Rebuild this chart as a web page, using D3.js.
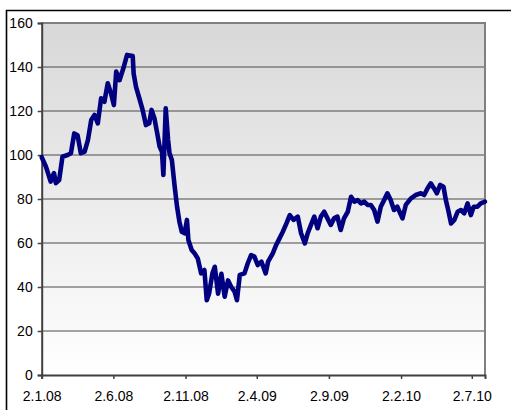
<!DOCTYPE html>
<html>
<head>
<meta charset="utf-8">
<script src="https://cdn.jsdelivr.net/npm/d3@7"></script>
<style>
  body { margin: 0; background: #fff; }
  text { font-family: "Liberation Sans", Arial, sans-serif; font-size: 14px; fill: #000; }
</style>
</head>
<body>
<div id="chart"></div>
<script>
// values
var dates = [
  "2008-01-02","2008-01-11","2008-01-21","2008-01-28","2008-02-01","2008-02-08","2008-02-15","2008-02-26",
  "2008-03-04","2008-03-11","2008-03-18","2008-03-25","2008-04-02","2008-04-09","2008-04-16","2008-04-23",
  "2008-04-30","2008-05-07","2008-05-14","2008-05-21","2008-05-28","2008-06-03","2008-06-08","2008-06-15",
  "2008-06-24","2008-07-01","2008-07-13","2008-07-15","2008-07-20","2008-07-27","2008-08-03","2008-08-10",
  "2008-08-17","2008-08-22","2008-08-28","2008-09-03","2008-09-08","2008-09-13","2008-09-16","2008-09-21",
  "2008-09-26","2008-09-29","2008-10-04","2008-10-10","2008-10-15","2008-10-20","2008-10-25","2008-10-31",
  "2008-11-05","2008-11-08","2008-11-15","2008-11-21","2008-11-28","2008-12-05","2008-12-12","2008-12-17",
  "2008-12-22","2008-12-29","2009-01-03","2009-01-10","2009-01-17","2009-01-24","2009-01-31","2009-02-07",
  "2009-02-14","2009-02-19","2009-02-25","2009-03-07","2009-03-14","2009-03-21","2009-03-28","2009-04-04",
  "2009-04-12","2009-04-21","2009-04-26","2009-05-06","2009-05-13","2009-05-20","2009-05-27","2009-06-04",
  "2009-06-11","2009-06-19","2009-06-28","2009-07-05","2009-07-13","2009-07-19","2009-07-26","2009-08-02",
  "2009-08-09","2009-08-16","2009-08-23","2009-08-30","2009-09-06","2009-09-13","2009-09-20","2009-09-27",
  "2009-10-04","2009-10-12","2009-10-19","2009-10-26","2009-11-02","2009-11-09","2009-11-16","2009-11-23",
  "2009-11-30","2009-12-07","2009-12-14","2009-12-21","2009-12-28","2010-01-04","2010-01-11","2010-01-18",
  "2010-01-25","2010-02-05","2010-02-12","2010-02-23","2010-03-05","2010-03-16","2010-03-23","2010-03-30",
  "2010-04-06","2010-04-13","2010-04-19","2010-04-26","2010-05-03","2010-05-08","2010-05-13","2010-05-19",
  "2010-05-26","2010-06-02","2010-06-09","2010-06-16","2010-06-23","2010-06-30","2010-07-06","2010-07-14",
  "2010-07-21","2010-07-30"
];
var values = [
  99, 94.7, 87.9, 91.8, 87.2, 88.6, 99.2, 100,
  100.8, 109.8, 109, 100.8, 101.5, 106.8, 115.9, 118.2,
  114.4, 125.8, 124.2, 132.6, 128, 122.7, 137.9, 134,
  140, 145.5, 145, 137, 131, 125.8, 120.5, 113.6,
  114.4, 120.5, 116.7, 109.8, 103.8, 101.5, 90.9, 121.2,
  106.8, 100.8, 97.7, 85.6, 76.5, 69.7, 65.1, 64.4,
  70.5, 61.4, 56.8, 55.3, 53, 46.2, 47.7, 34,
  37.1, 46.2, 49.2, 37, 46, 35.6, 43, 40,
  37.9, 34, 45.5, 46.2, 50.8, 54.5, 53.8, 50,
  51.5, 46.2, 51.5, 55.3, 59, 62, 65, 68.9,
  72.7, 70.5, 72, 64.4, 59.8, 64.4, 68.2, 72,
  66.7, 72, 74.2, 71.2, 68.2, 71.2, 72, 65.9,
  71.2, 74.2, 81, 78.8, 79.5, 78, 78.8, 77.3,
  77.3, 75, 69.7, 76.5, 79.5, 82.6, 79.5, 75,
  76.5, 71.2, 77.3, 80.3, 81.8, 82.6, 81.8, 84.8,
  87.1, 84.8, 82.6, 86.4, 85.6, 79.5, 75, 68.9,
  70.5, 74.2, 75, 73.5, 78, 72.7, 76.5, 76.5,
  78, 78.8
];
var xTickLabels = ["2.1.08","2.6.08","2.11.08","2.4.09","2.9.09","2.2.10","2.7.10"];
var yTicks = [0, 20, 40, 60, 80, 100, 120, 140, 160];
var xStart = "2008-01-02", xEnd = "2010-07-30";

var width = 511, height = 410;
var plotLeft = 41.7, plotRight = 485, plotTop = 23, plotBottom = 375;

var parseIso = d3.timeParse("%Y-%m-%d");
var parseTick = d3.timeParse("%d.%m.%y");
var fmtTick = d3.timeFormat("%-d.%-m.%y");

var data = dates.map(function(d, i){ return { date: parseIso(d), value: values[i] }; });

var svg = d3.select("#chart").append("svg")
  .attr("width", width)
  .attr("height", height);

// outer chart frame (only top and left edges are in view)
svg.append("path")
  .attr("d", "M6.5," + height + "V10.5H" + width)
  .attr("fill", "none")
  .attr("stroke", "#000")
  .attr("stroke-width", 1.6);

var x = d3.scaleTime()
  .domain([parseIso(xStart), parseIso(xEnd)])
  .range([plotLeft, plotRight]);

var y = d3.scaleLinear()
  .domain([0, 160])
  .range([plotBottom, plotTop]);

// plot area gradient
var grad = svg.append("defs").append("linearGradient")
  .attr("id", "bg").attr("x1", 0).attr("y1", 0).attr("x2", 0).attr("y2", 1);
grad.append("stop").attr("offset", "0%").attr("stop-color", "#d8d8d8");
grad.append("stop").attr("offset", "100%").attr("stop-color", "#ffffff");

svg.append("rect")
  .attr("x", plotLeft).attr("y", plotTop)
  .attr("width", plotRight - plotLeft).attr("height", plotBottom - plotTop)
  .attr("fill", "url(#bg)");

// gridlines
svg.selectAll(".grid")
  .data(yTicks.filter(function(d){ return d > 0; }))
  .enter().append("line")
  .attr("class", "grid")
  .attr("x1", plotLeft).attr("x2", plotRight)
  .attr("y1", function(d){ return y(d); })
  .attr("y2", function(d){ return y(d); })
  .attr("stroke", "#4a4a4a")
  .attr("stroke-width", 1.2);

// right and top border of plot area
svg.append("path")
  .attr("d", "M" + plotLeft + "," + plotTop + "H" + plotRight + "V" + plotBottom)
  .attr("fill", "none")
  .attr("stroke", "#808080")
  .attr("stroke-width", 2);

// y axis
var yAxis = svg.append("g")
  .attr("transform", "translate(" + plotLeft + ",0)")
  .call(d3.axisLeft(y).tickValues(yTicks).tickSize(4).tickPadding(5));

// x axis
var xAxis = svg.append("g")
  .attr("transform", "translate(0," + plotBottom + ")")
  .call(d3.axisBottom(x)
    .tickValues(xTickLabels.map(function(t){ return parseTick(t); }))
    .tickFormat(fmtTick)
    .tickSize(4).tickPadding(12));

[yAxis, xAxis].forEach(function(ax){
  ax.select(".domain").attr("stroke", "#404040").attr("stroke-width", 2);
  ax.selectAll(".tick line").attr("stroke", "#404040").attr("stroke-width", 1.5);
  ax.selectAll("text")
    .style("font-family", "'Liberation Sans', Arial, sans-serif")
    .style("font-size", "14px")
    .attr("fill", "#000");
});

// the series
var line = d3.line()
  .x(function(d){ return x(d.date); })
  .y(function(d){ return y(d.value); });

svg.append("path")
  .datum(data)
  .attr("d", line)
  .attr("fill", "none")
  .attr("stroke", "#000080")
  .attr("stroke-width", 4.6)
  .attr("stroke-linejoin", "round")
  .attr("stroke-linecap", "round");
</script>
</body>
</html>
